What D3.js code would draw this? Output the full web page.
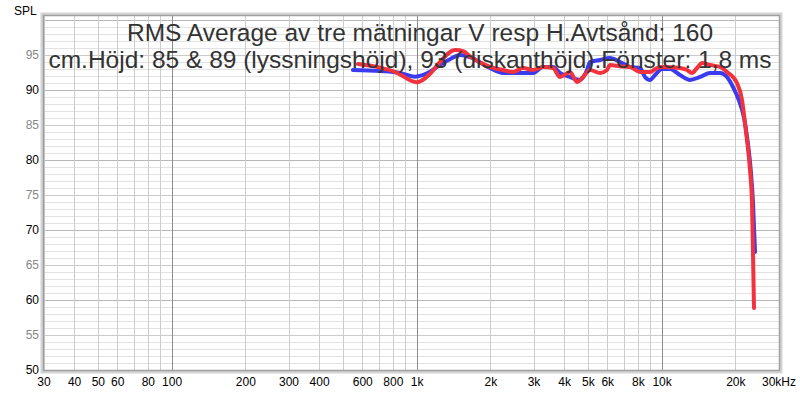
<!DOCTYPE html>
<html>
<head>
<meta charset="utf-8">
<script src="https://cdn.jsdelivr.net/npm/d3@7"></script>
<style>
  body { margin: 0; background: #fff; }
  svg { font-family: "Liberation Sans", Arial, sans-serif; }
</style>
</head>
<body>
<div id="chart"></div>
<script>
// frequency ticks (Hz) and their labels
const tickFreqs = [30, 40, 50, 60, 80, 100, 200, 300, 400, 600, 800, 1000, 2000, 3000, 4000, 5000, 6000, 8000, 10000, 20000, 30000];
const tickLabels = ["30", "40", "50", "60", "80", "100", "200", "300", "400", "600", "800", "1k", "2k", "3k", "4k", "5k", "6k", "8k", "10k", "20k", "30kHz"];
const yTicks = [50, 55, 60, 65, 70, 75, 80, 85, 90, 95];

const titleLines = [
    "RMS Average av tre mätningar V resp H.Avtsånd: 160",
    "cm.Höjd: 85 & 89 (lyssningshöjd), 93 (diskanthöjd).Fönster: 1,8 ms"
];

// blue curve [Hz, dB]
const blueData = [[547,92.86],[706,92.71],[852,92.43],[980,91.9],[1129,92.6],[1240,93.6],[1362,94.4],[1500,95.0],[1644,94.7],[1984,93.14],[2242,92.43],[2630,92.43],[2972,92.43],[3265,93.29],[3588,93.29],[3831,92.43],[4209,91.86],[4622,91.43],[4938,92.86],[5078,94.0],[5580,94.29],[6128,94.57],[6733,94.0],[7396,93.29],[8125,93.14],[8517,91.86],[8925,91.43],[9354,92.14],[9990,93.0],[10772,93.0],[11833,92.14],[13000,91.43],[14280,91.86],[15686,92.43],[17230,92.43],[18400,91.86],[19470,90.43],[20600,88.5],[21600,86.0],[22300,82.86],[23000,78.57],[23500,73.86],[23944,66.86]];

// red curve [Hz, dB]
const redData = [[574,93.7],[706,93.2],[812,92.6],[999,91.1],[1129,92.3],[1240,94.0],[1428,95.7],[1550,95.5],[1644,94.8],[1984,93.29],[2242,92.86],[2463,92.57],[2706,93.14],[2972,92.86],[3265,93.29],[3588,93.14],[3831,91.86],[4209,92.57],[4494,91.14],[4754,91.86],[5078,92.86],[5580,92.43],[5958,92.86],[6128,93.57],[6733,93.4],[7396,93.29],[8125,92.57],[8925,92.57],[9532,93.14],[10060,93.29],[11833,93.14],[12637,92.86],[13245,92.43],[13881,93.14],[14550,93.86],[15686,93.57],[17230,93.29],[18400,92.57],[20217,91.0],[21190,88.57],[21795,85.29],[22210,82.86],[22845,78.57],[23277,73.86],[23497,66.71],[23721,58.86]];

const width = 800, height = 394;
const plot = {left: 44, right: 779, top: 16, bottom: 370};

const svg = d3.select("#chart").append("svg")
    .attr("width", width)
    .attr("height", height);

const x = d3.scaleLog().domain([30, 30000]).range([plot.left, plot.right]);
const y = d3.scaleLinear().domain([50, 100]).range([plot.bottom, 20]);

// frame shadow
svg.append("rect")
    .attr("x", plot.left - 2).attr("y", plot.top - 2)
    .attr("width", plot.right - plot.left + 4).attr("height", plot.bottom - plot.top + 4)
    .attr("fill", "none").attr("stroke", "#d4d4d4").attr("stroke-width", 3);

svg.append("rect")
    .attr("x", plot.left).attr("y", plot.top)
    .attr("width", plot.right - plot.left).attr("height", plot.bottom - plot.top)
    .attr("fill", "#fff");

// horizontal grid, one per dB
const grid = svg.append("g");
d3.range(51, 101).forEach(v => {
    grid.append("line")
        .attr("x1", plot.left).attr("x2", plot.right)
        .attr("y1", y(v)).attr("y2", y(v))
        .attr("stroke", v % 10 === 0 ? "#b8b8b8" : (v % 5 === 0 ? "#cacaca" : "#e2e2e2"))
        .attr("stroke-width", 1)
        .attr("shape-rendering", "crispEdges");
});

// vertical grid
let vLines = [];
[10, 100, 1000, 10000].forEach(dec => {
    for (let m = 1; m < 10; m++) {
        let f = dec * m;
        if (f >= 30 && f <= 20000) vLines.push(f);
    }
});
vLines.forEach(f => {
    let decade = Math.abs(Math.log10(f) - Math.round(Math.log10(f))) < 1e-9;
    grid.append("line")
        .attr("x1", x(f)).attr("x2", x(f))
        .attr("y1", plot.top).attr("y2", plot.bottom)
        .attr("stroke", decade ? "#8c8c8c" : "#cccccc")
        .attr("stroke-width", 1)
        .attr("shape-rendering", "crispEdges");
});

// frame border
svg.append("rect")
    .attr("x", plot.left - 0.5).attr("y", plot.top - 0.5)
    .attr("width", plot.right - plot.left + 1).attr("height", plot.bottom - plot.top + 1)
    .attr("fill", "none").attr("stroke", "#a0a0a0").attr("stroke-width", 1.5);

// curves
const line = d3.line()
    .x(d => x(d[0]))
    .y(d => y(d[1]))
    .curve(d3.curveMonotoneX);

svg.append("path")
    .datum(blueData)
    .attr("d", line)
    .attr("fill", "none")
    .attr("stroke", "#3a3aee")
    .attr("stroke-width", 4)
    .attr("stroke-linejoin", "round")
    .attr("stroke-linecap", "round");

svg.append("path")
    .datum(redData)
    .attr("d", line)
    .attr("fill", "none")
    .attr("stroke", "#f2323c")
    .attr("stroke-width", 4)
    .attr("stroke-linejoin", "round")
    .attr("stroke-linecap", "round");

// title over the plot
svg.append("text")
    .attr("x", 420).attr("y", 41)
    .attr("text-anchor", "middle")
    .attr("font-size", 24.5)
    .attr("fill", "#333")
    .text(titleLines[0]);

svg.append("text")
    .attr("x", 410).attr("y", 68)
    .attr("text-anchor", "middle")
    .attr("font-size", 24.5)
    .attr("fill", "#333")
    .text(titleLines[1]);

// y labels
svg.append("text")
    .attr("x", 14).attr("y", 15)
    .attr("font-size", 12)
    .attr("fill", "#000")
    .text("SPL");

svg.selectAll(".ylab").data(yTicks).enter().append("text")
    .attr("class", "ylab")
    .attr("x", 39)
    .attr("y", d => y(d) + 4)
    .attr("text-anchor", "end")
    .attr("font-size", 12)
    .attr("fill", d => d % 10 === 0 ? "#000" : "#888")
    .text(d => d);

// x labels
svg.selectAll(".xlab").data(tickFreqs).enter().append("text")
    .attr("class", "xlab")
    .attr("x", d => x(d))
    .attr("y", 386)
    .attr("text-anchor", "middle")
    .attr("font-size", 12)
    .attr("fill", "#000")
    .text((d, i) => tickLabels[i]);
</script>
</body>
</html>
